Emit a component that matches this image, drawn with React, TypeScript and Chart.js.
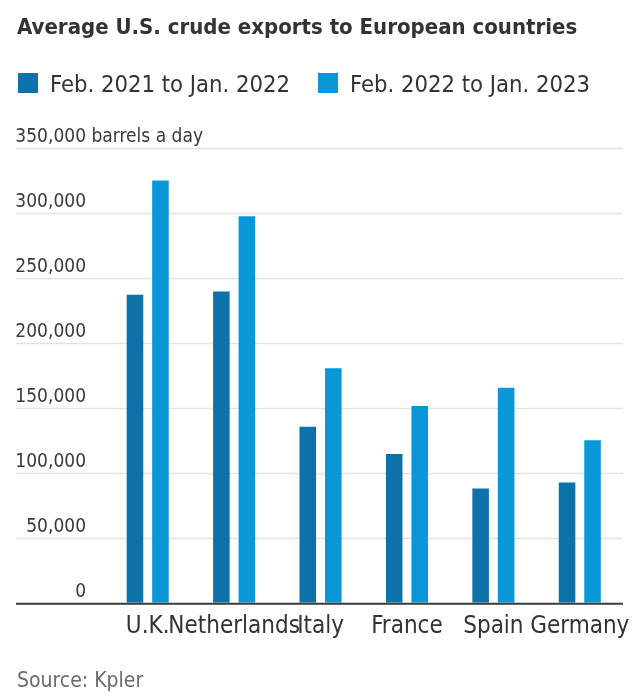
import React, { useEffect, useRef } from "react";
import { Chart, registerables } from "chart.js";

Chart.register(...registerables);

const chartTitle = "Average U.S. crude exports to European countries";
const categories = ["U.K.", "Netherlands", "Italy", "France", "Spain", "Germany"];
const seriesLabels = ["Feb. 2021 to Jan. 2022", "Feb. 2022 to Jan. 2023"];
const series2021 = [237000, 239500, 135500, 114500, 88000, 92500];
const series2022 = [325000, 297500, 180500, 151500, 165500, 125000];
const yTickValues = [0, 50000, 100000, 150000, 200000, 250000, 300000, 350000];
const unitSuffix = " barrels a day";
const sourceText = "Source: Kpler";

const colors = ["#0d72aa", "#0b96d8"];
const FONT = '"DejaVu Sans Condensed", "DejaVu Sans", sans-serif';

const fmt = (v: number) => v.toLocaleString("en-US");

const decorPlugin = {
  id: "decor",
  beforeDatasetsDraw(chart: any) {
    const { ctx, chartArea } = chart;
    const y = chart.scales.y;
    ctx.save();
    ctx.strokeStyle = "#e3e3e3";
    ctx.lineWidth = 1.5;
    yTickValues.forEach((v) => {
      if (v === 0) return;
      const py = Math.round(y.getPixelForValue(v)) + 0.5;
      ctx.beginPath();
      ctx.moveTo(16, py);
      ctx.lineTo(chartArea.right, py);
      ctx.stroke();
    });
    ctx.restore();
  },
  afterDatasetsDraw(chart: any) {
    const { ctx, chartArea } = chart;
    const y = chart.scales.y;
    ctx.save();
    ctx.strokeStyle = "#3a3a3a";
    ctx.lineWidth = 2;
    const by = y.getPixelForValue(0);
    ctx.beginPath();
    ctx.moveTo(16, by + 1);
    ctx.lineTo(chartArea.right, by + 1);
    ctx.stroke();
    ctx.fillStyle = "#3a3a3a";
    ctx.font = `19px ${FONT}`;
    ctx.textBaseline = "alphabetic";
    yTickValues.forEach((v, i) => {
      const py = y.getPixelForValue(v) - 6;
      ctx.textAlign = "right";
      ctx.fillText(fmt(v), 86, py);
      if (i === yTickValues.length - 1) {
        ctx.textAlign = "left";
        ctx.fillText(unitSuffix, 86, py);
      }
    });
    ctx.restore();
  },
  afterDraw(chart: any) {
    const { ctx } = chart;
    ctx.save();
    ctx.fillStyle = "#333333";
    ctx.font = `bold 22px ${FONT}`;
    ctx.textAlign = "left";
    ctx.textBaseline = "alphabetic";
    ctx.fillText(chartTitle, 17, 34);
    ctx.font = `23.6px ${FONT}`;
    let x = 18;
    chart.data.datasets.forEach((ds: any, i: number) => {
      ctx.fillStyle = colors[i];
      ctx.fillRect(x, 73, 20, 20);
      ctx.fillStyle = "#333333";
      ctx.fillText(ds.label, x + 32, 92);
      x = 318;
    });
    ctx.fillStyle = "#6a6a6a";
    ctx.font = `21px ${FONT}`;
    ctx.fillText(sourceText, 17, 687);
    ctx.restore();
  },
};

export default function App() {
  const ref = useRef<HTMLCanvasElement | null>(null);
  useEffect(() => {
    if (!ref.current) return;
    const chart = new Chart(ref.current, {
      type: "bar",
      data: {
        labels: categories,
        datasets: [
          {
            label: seriesLabels[0],
            data: series2021,
            backgroundColor: colors[0],
            categoryPercentage: 0.59,
            barPercentage: 0.65,
          },
          {
            label: seriesLabels[1],
            data: series2022,
            backgroundColor: colors[1],
            categoryPercentage: 0.59,
            barPercentage: 0.65,
          },
        ],
      },
      options: {
        responsive: false,
        animation: false,
        layout: { padding: { left: 104.5, right: 17, top: 148, bottom: 55.5 } },
        plugins: {
          legend: { display: false },
          title: { display: false },
          tooltip: { enabled: false },
        },
        scales: {
          x: {
            grid: { display: false },
            border: { display: false },
            ticks: {
              autoSkip: false,
              maxRotation: 0,
              minRotation: 0,
              padding: 2,
              color: "#333333",
              font: { family: FONT, size: 24 },
            },
          },
          y: {
            display: false,
            min: 0,
            max: 350000,
            ticks: { stepSize: 50000 },
          },
        },
      },
      plugins: [decorPlugin],
    });
    return () => chart.destroy();
  }, []);
  return (
    <div style={{ position: "fixed", left: 0, top: 0, width: 640, height: 699, background: "#fff" }}>
      <canvas ref={ref} width={640} height={699} />
    </div>
  );
}
